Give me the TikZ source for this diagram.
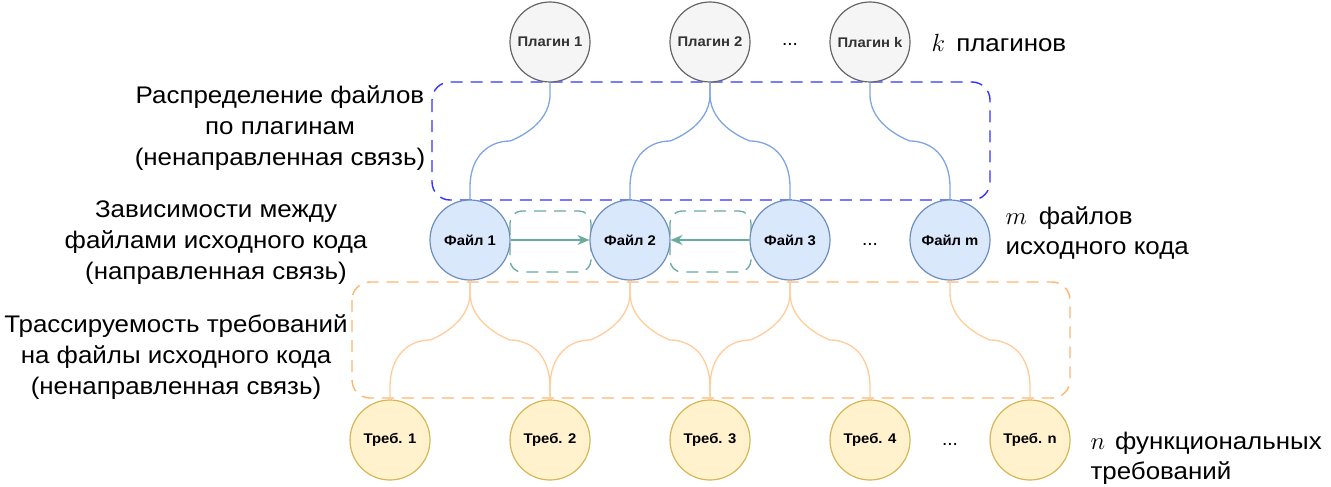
\documentclass[tikz,border=0pt]{standalone}
\usepackage{fontspec}
\setmainfont{Liberation Sans}
\newfontfamily\lblfont[FakeStretch=1.08]{Liberation Sans}
\newfontfamily\nodefont[FakeStretch=1.06]{Liberation Sans}
\usetikzlibrary{arrows.meta,calc}
\definecolor{plugfill}{HTML}{F5F5F5}
\definecolor{plugdraw}{HTML}{666666}
\definecolor{plugtext}{HTML}{333333}
\definecolor{filefill}{HTML}{DAE8FC}
\definecolor{filedraw}{HTML}{6C8EBF}
\definecolor{reqfill}{HTML}{FFF2CC}
\definecolor{reqdraw}{HTML}{D6B656}
\definecolor{bluelink}{HTML}{7EA6E0}
\definecolor{orangelink}{HTML}{FFCC99}
\definecolor{bluebox}{HTML}{3333FF}
\definecolor{orangebox}{HTML}{FFB570}
\definecolor{greenlink}{HTML}{67AB9F}
\tikzset{
  circ/.style={circle, minimum size=80pt, inner sep=0pt, line width=1.2pt, font=\nodefont\fontsize{14}{15}\selectfont\bfseries},
  plugin/.style={circ, draw=plugdraw, fill=plugfill, text=plugtext},
  filenode/.style={circ, draw=filedraw, fill=filefill},
  reqnode/.style={circ, draw=reqdraw, fill=reqfill},
  bluecon/.style={draw=bluelink, line width=1.3pt},
  orangecon/.style={draw=orangelink, line width=1.3pt},
  groupbox/.style={line width=1.4pt, dash pattern=on 12pt off 8pt, rounded corners=18pt},
  lbl/.style={align=center, font=\lblfont\fontsize{24}{31}\selectfont},
  rlbl/.style={align=left, anchor=west, font=\lblfont\fontsize{24}{30}\selectfont},
  dots/.style={font=\fontsize{19}{20}\selectfont},
  dep/.style={draw=greenlink, line width=1.3pt, -{Stealth[length=12pt,width=10pt]}},
  depbox/.style={draw=greenlink, line width=1.3pt, dash pattern=on 12pt off 8pt, rounded corners=12pt}
}
% S-shaped connector: style, from node anchor, to node anchor, y of middle
\newcommand{\sconn}[4]{%
  \draw[#1] (#2) -- ($(#2)+(0,12)$) coordinate (sA)
    .. controls ($(sA)!0.7!(#2 |- 0,#4)$) and ($(#2 |- 0,#4)!0.5!(#3 |- 0,#4)$)
    .. ($(#2 |- 0,#4)!0.5!(#3 |- 0,#4)$) coordinate (sM)
    .. controls ($(sM)!0.5!(#3 |- 0,#4)$) and ($($(#3)+(0,-12)$)!0.7!(#3 |- 0,#4)$)
    .. ($(#3)+(0,-12)$) -- (#3);}
\begin{document}
\begin{tikzpicture}[x=1pt,y=-1pt]
\useasboundingbox (0,0) rectangle (1331,487);
% group boxes
\draw[groupbox, draw=bluebox] (432,82) rectangle (990,200);
\draw[groupbox, draw=orangebox] (352,282) rectangle (1070,398);
\draw[depbox] (510,211) rectangle (591,272);
\draw[depbox] (670,211) rectangle (751,272);
% nodes
\node[plugin] (p1) at (550,42) {Плагин 1};
\node[plugin] (p2) at (710,42) {Плагин 2};
\node[plugin] (pk) at (870,42) {Плагин k};
\node[filenode] (f1) at (470,240) {Файл 1};
\node[filenode] (f2) at (630,240) {Файл 2};
\node[filenode] (f3) at (790,240) {Файл 3};
\node[filenode] (fm) at (950,240) {Файл m};
\node[reqnode] (r1) at (390,440) {Треб. 1};
\node[reqnode] (r2) at (550,440) {Треб. 2};
\node[reqnode] (r3) at (710,440) {Треб. 3};
\node[reqnode] (r4) at (870,440) {Треб. 4};
\node[reqnode] (rn) at (1030,440) {Треб. n};
\node[dots] (d1) at (790,44) {...};
\node[dots] (d2) at (870,244) {...};
\node[dots] (d3) at (950,444) {...};
% blue connectors
\sconn{bluecon}{p1.south}{f1.north}{141}
\sconn{bluecon}{p2.south}{f2.north}{141}
\sconn{bluecon}{p2.south}{f3.north}{141}
\sconn{bluecon}{pk.south}{fm.north}{141}
% orange connectors
\sconn{orangecon}{f1.south}{r1.north}{340}
\sconn{orangecon}{f1.south}{r2.north}{340}
\sconn{orangecon}{f2.south}{r2.north}{340}
\sconn{orangecon}{f2.south}{r3.north}{340}
\sconn{orangecon}{f3.south}{r3.north}{340}
\sconn{orangecon}{f3.south}{r4.north}{340}
\sconn{orangecon}{fm.south}{rn.north}{340}
% dependencies
\draw[dep] (f1.east) -- (f2.west);
\draw[dep] (f3.west) -- (f2.east);
% labels
\node[lbl] (l1) at (280,128) {Распределение файлов\\по плагинам\\(ненаправленная связь)};
\node[lbl] (l2) at (216,243) {Зависимости между\\файлами исходного кода\\(направленная связь)};
\node[lbl] (l3) at (176,357) {Трассируемость требований\\на файлы исходного кода\\(ненаправленная связь)};
\node[rlbl] (t1) at (928,43) {{\fontsize{28}{30}\selectfont$k$}\, плагинов};
\node[rlbl] (t2) at (1002,233) {{\fontsize{28}{30}\selectfont$m$}\hspace{12pt}файлов\\исходного кода};
\node[rlbl] (t3) at (1087,458) {{\fontsize{28}{30}\selectfont$n$}\hspace{10pt}функциональных\\требований};
\end{tikzpicture}
\end{document}
